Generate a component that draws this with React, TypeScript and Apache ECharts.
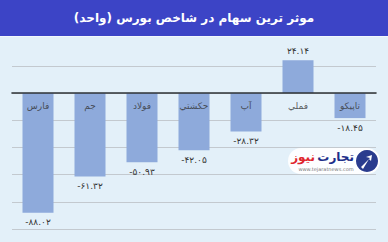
import React, { useEffect, useRef } from "react";
import * as echarts from "echarts";

const categories = ["فارس", "جم", "فولاد", "حکشتي", "آپ", "فملي", "تاپيکو"];
const values = [-88.02, -61.32, -50.93, -42.05, -28.32, 24.14, -18.45];
const valueLabels = ["-۸۸.۰۲", "-۶۱.۳۲", "-۵۰.۹۳", "-۴۲.۰۵", "-۲۸.۳۲", "۲۴.۱۴", "-۱۸.۴۵"];
const title = "موثر ترین سهام در شاخص بورس (واحد)";

export default function App() {
  const ref = useRef<HTMLDivElement>(null);
  useEffect(() => {
    if (!ref.current) return;
    const chart = echarts.init(ref.current, null, { renderer: "svg" });
    const font = "'DejaVu Sans', 'Noto Sans', sans-serif";
    chart.setOption({
      animation: false,
      backgroundColor: "#e3f0f9",
      textStyle: { fontFamily: font },
      grid: { left: 12, right: 12, top: 38.6, bottom: 13, containLabel: false },
      xAxis: {
        type: "category",
        data: categories,
        z: 5,
        axisLine: { onZero: true, lineStyle: { color: "#2e3236", width: 1.6 } },
        axisTick: { show: false },
        axisLabel: { show: false },
        splitLine: { show: false },
      },
      yAxis: {
        type: "value",
        min: -100,
        max: 40,
        interval: 20,
        axisLabel: { show: false },
        axisLine: { show: false },
        axisTick: { show: false },
        splitLine: {
          show: true,
          lineStyle: {
            color: ["#c3c9cf", "#c3c9cf", "#c3c9cf", "#c3c9cf", "#c3c9cf", "#c3c9cf", "#c3c9cf", "transparent"],
            width: 1,
          },
        },
      },
      series: [
        {
          type: "bar",
          barWidth: 31,
          data: values.map((v, i) => ({
            value: v,
            label: {
              show: true,
              position: v >= 0 ? "top" : "bottom",
              distance: 5,
              formatter: () => valueLabels[i],
              color: "#333",
              fontSize: 9,
              fontFamily: font,
            },
          })),
          itemStyle: { color: "#8eaadb" },
        },
        {
          type: "scatter",
          symbolSize: 0,
          z: 6,
          data: categories.map((c) => [c, 0]),
          label: {
            show: true,
            position: "bottom",
            distance: 8,
            formatter: (p: any) => p.name || p.value[0],
            color: "#333",
            fontSize: 9,
            fontFamily: font,
          },
          silent: true,
        },
      ],
      graphic: [
        { type: "rect", left: 0, top: 0, shape: { width: 388, height: 36 }, style: { fill: "#3c44c6" }, z: 10 },
        { type: "rect", left: 0, top: 36, shape: { width: 388, height: 1 }, style: { fill: "#f2f8fc" }, z: 10 },
        {
          type: "text",
          x: 194,
          y: 18,
          style: {
            text: title,
            fill: "#ffffff",
            font: "bold 12px " + font,
            align: "center",
            verticalAlign: "middle",
          },
          z: 11,
        },
        {
          type: "rect",
          x: 288,
          y: 148,
          shape: { width: 92, height: 26, r: 13 },
          style: { fill: "rgba(255,255,255,0.92)" },
          z: 12,
        },
        { type: "circle", x: 367, y: 161, shape: { r: 11 }, style: { fill: "#2a3c8e" }, z: 13 },
        {
          type: "polygon",
          shape: { points: [[361, 167], [370, 158], [366, 157], [372, 155], [371, 161], [369, 159], [363, 169]] },
          style: { fill: "#ffffff" },
          z: 14,
        },
        {
          type: "text",
          x: 354,
          y: 157,
          style: { text: "تجارت", fill: "#1d2f8a", font: "bold 12px " + font, align: "right", verticalAlign: "middle" },
          z: 13,
        },
        {
          type: "text",
          x: 315,
          y: 157,
          style: { text: "نیوز", fill: "#e0262e", font: "bold 12px " + font, align: "right", verticalAlign: "middle" },
          z: 13,
        },
        {
          type: "text",
          x: 326,
          y: 168.5,
          style: { text: "www.tejaratnews.com", fill: "#777", font: "5px " + font, align: "center", verticalAlign: "middle" },
          z: 13,
        },
      ],
    });
    return () => chart.dispose();
  }, []);
  return (
    <div
      ref={ref}
      style={{ position: "absolute", left: 0, top: 0, width: 388, height: 242 }}
    />
  );
}
